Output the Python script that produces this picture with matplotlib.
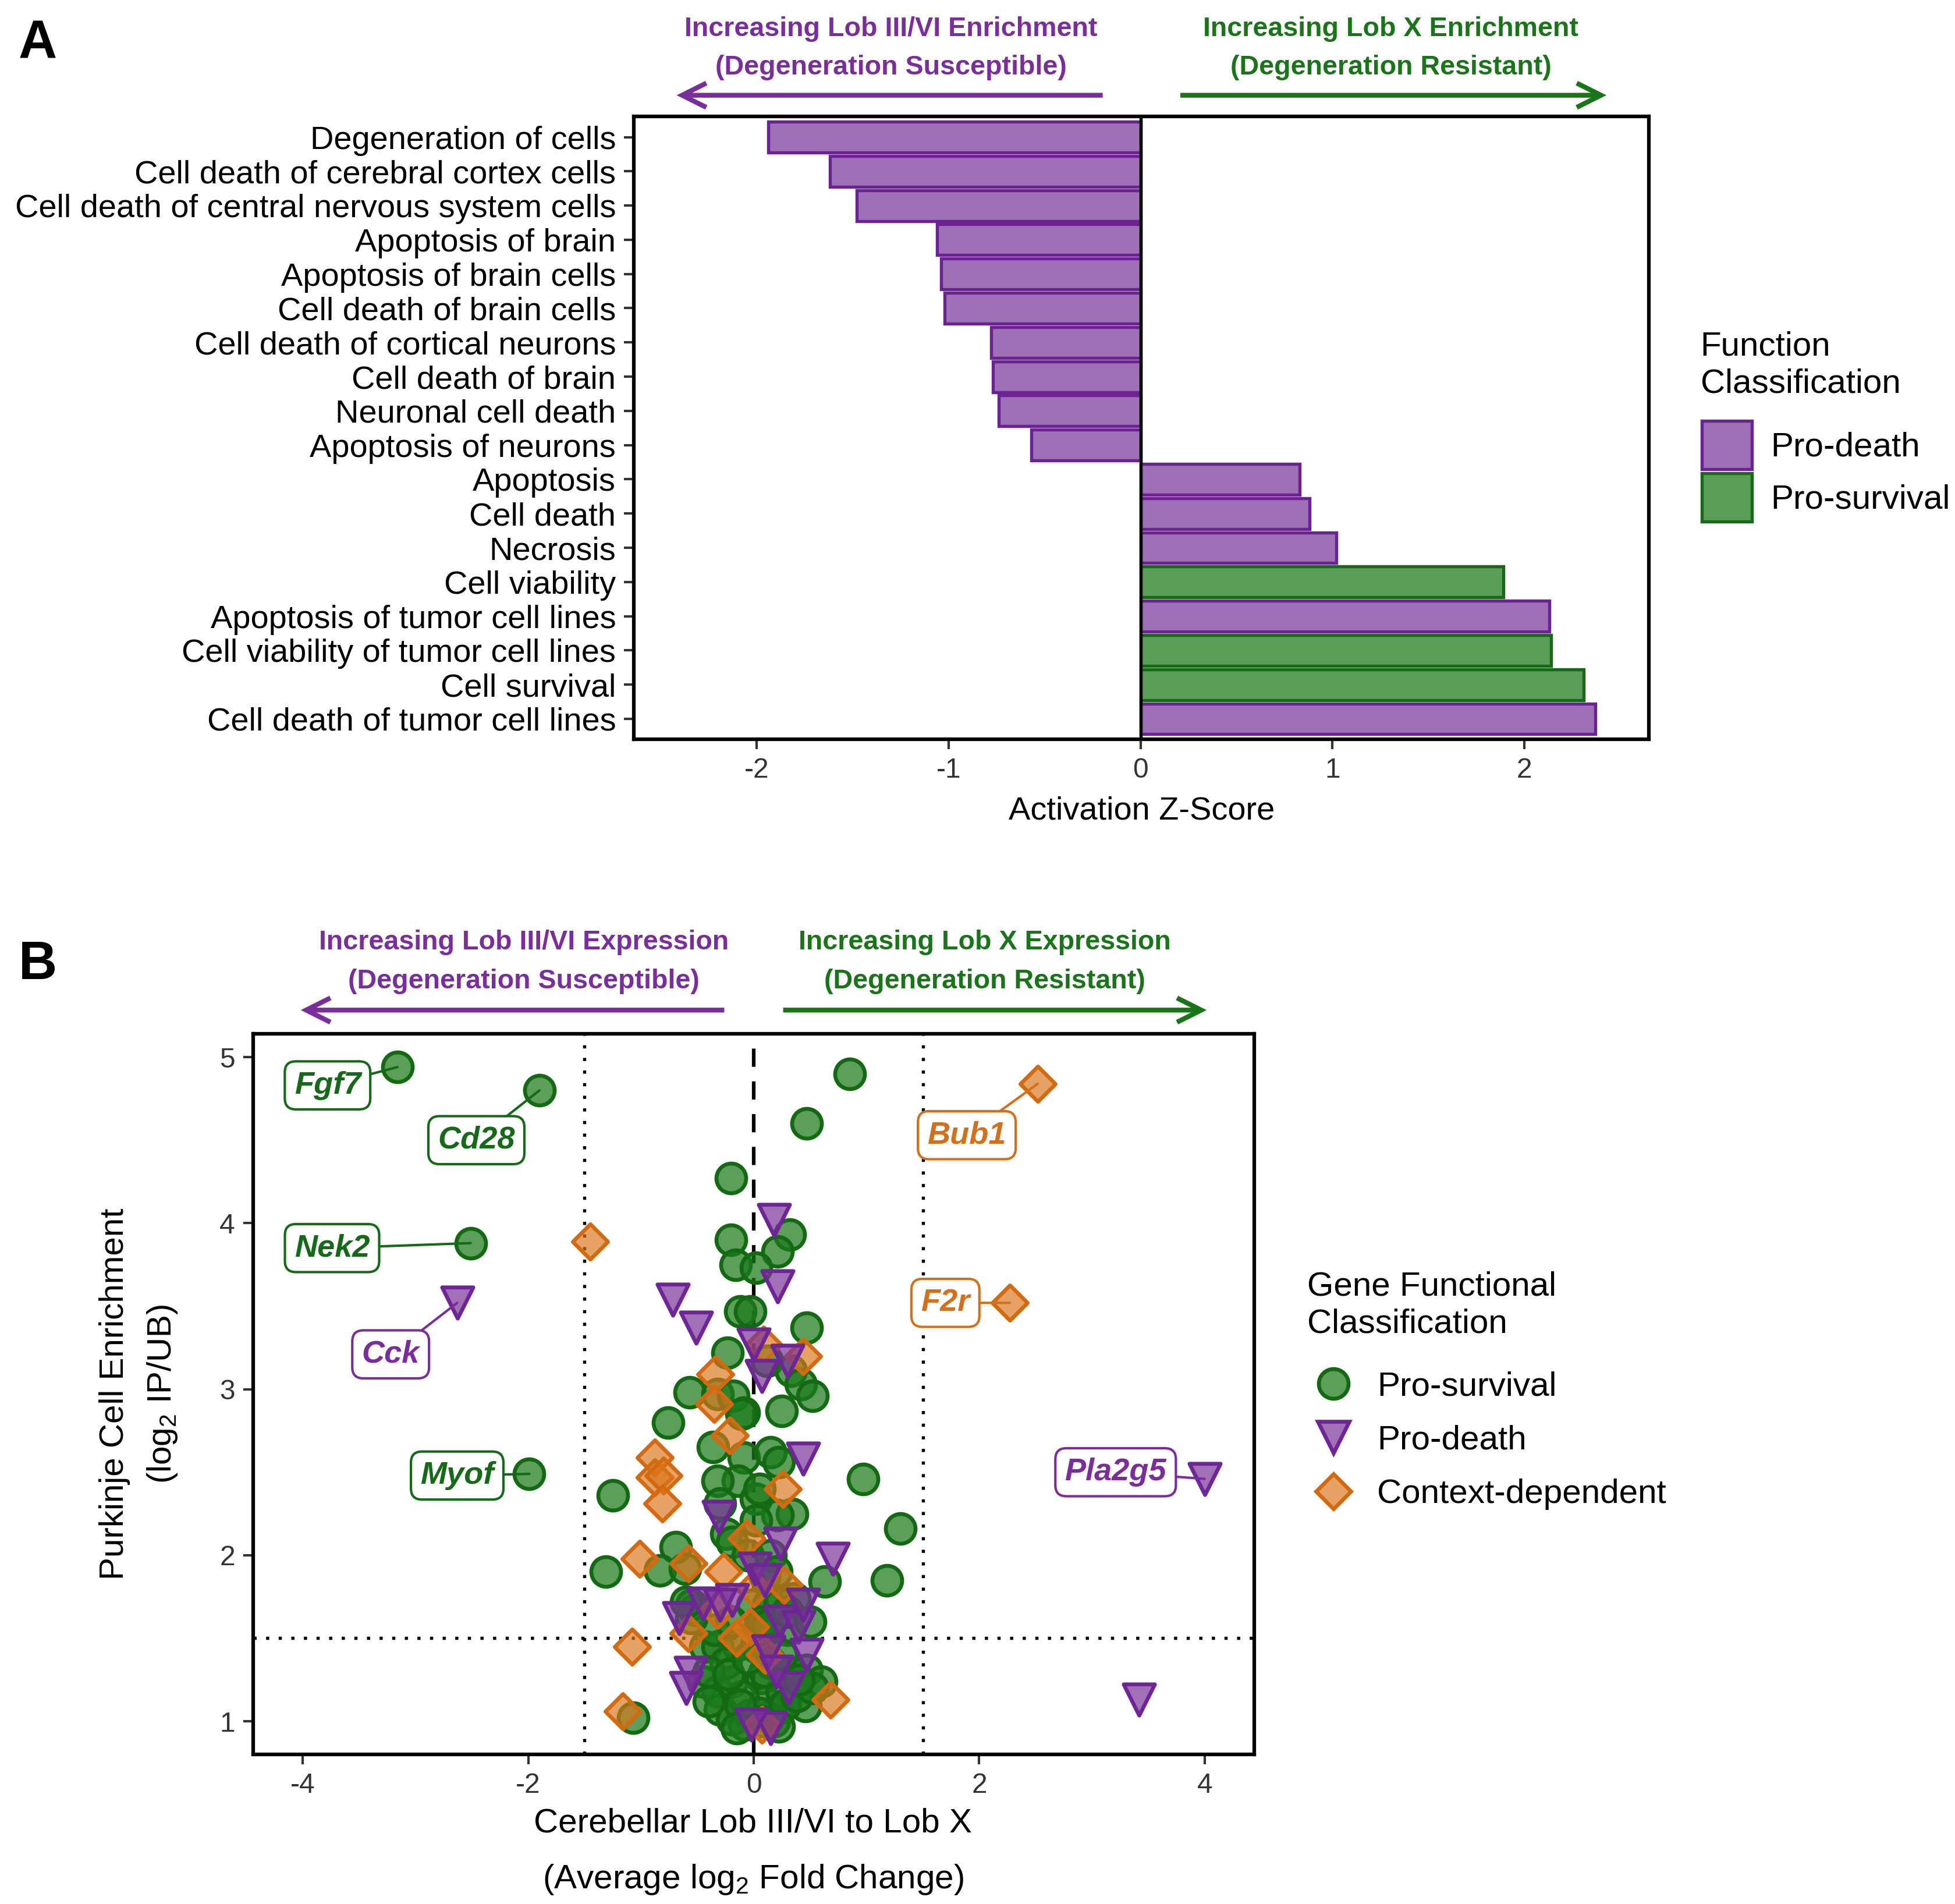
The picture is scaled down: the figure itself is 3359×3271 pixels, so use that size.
import matplotlib
matplotlib.use("Agg")
import matplotlib.pyplot as plt
from matplotlib.patches import Patch, FancyArrowPatch
from matplotlib.lines import Line2D
import numpy as np

plt.rcParams['font.family'] = ['Liberation Sans', 'DejaVu Sans']
plt.rcParams['mathtext.fontset'] = 'custom'
plt.rcParams['mathtext.rm'] = 'Liberation Sans'
plt.rcParams['mathtext.it'] = 'Liberation Sans:italic'

# ---------------- Panel A data ----------------
functions = ["Degeneration of cells", "Cell death of cerebral cortex cells",
             "Cell death of central nervous system cells", "Apoptosis of brain",
             "Apoptosis of brain cells", "Cell death of brain cells",
             "Cell death of cortical neurons", "Cell death of brain",
             "Neuronal cell death", "Apoptosis of neurons", "Apoptosis",
             "Cell death", "Necrosis", "Cell viability",
             "Apoptosis of tumor cell lines", "Cell viability of tumor cell lines",
             "Cell survival", "Cell death of tumor cell lines"]
zscores = [-1.94, -1.62, -1.48, -1.06, -1.04, -1.02, -0.78, -0.77, -0.74, -0.57,
           0.83, 0.88, 1.02, 1.89, 2.13, 2.14, 2.31, 2.37]
func_class = ["Pro-death"] * 13 + ["Pro-survival", "Pro-death", "Pro-survival",
                                   "Pro-survival", "Pro-death"]

# ---------------- Panel B data ----------------
surv_x = [-3.16, -1.90, -2.51, -1.99,
          0.85, 0.47, -0.20, 0.32, -0.20, 0.21, -0.16, 0.02, -0.12, -0.03, 0.47,
          -0.23, 0.12, 0.33, 0.42, 0.52, -0.57, -0.32, -0.18, -0.09, 0.25, -0.76,
          -0.11, -0.36, -0.09, 0.15, 0.22, -1.25, 0.97, -0.14, -0.32, -0.30, 0.02,
          0.34, 0.21, -0.24, 0.02, -0.19, 1.30, -0.69, -1.31, -0.83, -0.61, 0.63,
          1.18, 0.10, -0.52, -0.55, -0.01, 0.13, 0.23, 0.36, -0.43, -0.32, -0.14,
          0.02, -0.45, -0.32, -0.19, 0.07, 0.34, 0.47, 0.60, 0.46, -0.30, -0.19,
          -0.03, 0.13, 0.21, -0.08, -1.07, 0.10, -0.10, 0.25, -0.25, 0.15, 0.05,
          -0.05, 0.15, 0.30, 0.05, -0.40, 0.20, 0.08,
          0.05, 0.18, -0.12, 0.28, 0.38, -0.40, -0.22, 0.10, 0.25, -0.05, 0.52,
          0.40, -0.35, -0.20, 0.12, -0.55, -0.60, 0.30, 0.50, 0.08, 0.22, -0.15]
surv_y = [4.94, 4.80, 3.88, 2.49,
          4.90, 4.60, 4.27, 3.93, 3.90, 3.83, 3.75, 3.73, 3.47, 3.47, 3.37,
          3.22, 3.17, 3.11, 3.03, 2.96, 2.98, 2.97, 2.96, 2.86, 2.87, 2.80,
          2.85, 2.65, 2.59, 2.62, 2.56, 2.36, 2.46, 2.45, 2.45, 2.31, 2.34,
          2.25, 2.24, 2.13, 2.21, 2.08, 2.16, 2.05, 1.90, 1.91, 1.92, 1.84,
          1.85, 1.88, 1.67, 1.70, 1.70, 1.70, 1.71, 1.74, 1.45, 1.45, 1.46,
          1.45, 1.24, 1.18, 1.24, 1.26, 1.29, 1.31, 1.24, 1.09, 1.07, 1.01,
          1.04, 1.02, 1.07, 0.98, 1.02, 1.12, 1.15, 1.18, 1.35, 1.35, 1.55,
          2.00, 2.00, 1.55, 2.40, 1.30, 1.90, 1.60,
          1.05, 1.00, 1.10, 1.10, 1.15, 1.12, 1.28, 1.30, 1.40, 1.38, 1.20,
          1.25, 1.55, 1.60, 1.58, 1.62, 1.72, 1.66, 1.60, 1.00, 0.97, 0.96]
death_x = [-2.63, 4.00,
           3.42, 0.18, 0.21, -0.72, -0.51, 0.00, 0.30, 0.07, 0.44, -0.31, 0.24,
           0.70, 0.01, -0.66, -0.45, -0.19, 0.23, 0.40, 0.44, 0.13, 0.47, -0.56,
           -0.60, 0.31, 0.15, -0.02, 0.20, -0.30, 0.10]
death_y = [3.52, 2.46,
           1.13, 4.02, 3.62, 3.54, 3.37, 3.27, 3.17, 3.08, 2.58, 2.23, 2.07,
           1.98, 1.92, 1.62, 1.71, 1.73, 1.60, 1.57, 1.70, 1.42, 1.40, 1.29,
           1.20, 1.20, 0.96, 0.98, 1.30, 1.70, 1.85]
ctx_x = [2.52, 2.27,
         -1.45, 0.09, 0.44, -0.34, -0.35, -0.21, -0.88, -0.88, -0.80, -0.81,
         0.26, -0.06, -1.01, -0.58, -0.27, 0.27, -0.32, -0.03, -0.58, -1.08,
         0.68, 0.07, -1.16, 0.10, -0.15, 0.00]
ctx_y = [4.84, 3.52,
         3.89, 3.27, 3.20, 3.09, 2.91, 2.72, 2.59, 2.47, 2.48, 2.31,
         2.40, 2.10, 1.98, 1.95, 1.90, 1.82, 1.67, 1.57, 1.53, 1.45,
         1.13, 0.98, 1.06, 1.40, 1.50, 1.80]

label_genes = ["Fgf7", "Cd28", "Nek2", "Myof", "Cck", "Pla2g5", "Bub1", "F2r"]
label_x = [-3.16, -1.90, -2.51, -1.99, -2.63, 4.00, 2.52, 2.27]
label_y = [4.94, 4.80, 3.88, 2.49, 3.52, 2.46, 4.84, 3.52]
label_cls = ["Pro-survival"] * 4 + ["Pro-death"] * 2 + ["Context-dependent"] * 2

# ---------------- styles ----------------
PUR_FILL, PUR_EDGE = "#9E70B5", "#6A2390"
GRN_FILL, GRN_EDGE = "#5A9E5A", "#17691A"
PUR_TXT, GRN_TXT = "#7A2E9B", "#1A741A"
cls_style = {
    "Pro-survival": dict(marker="o", fc=(0.11, 0.48, 0.11, 0.72), ec="#136A13", s=150),
    "Pro-death": dict(marker="v", fc=(0.48, 0.20, 0.60, 0.70), ec="#6E2596", s=165),
    "Context-dependent": dict(marker="D", fc=(0.86, 0.46, 0.10, 0.68), ec="#D26A12", s=105),
}
lab_col = {"Pro-survival": "#17691A", "Pro-death": "#7A2E9B", "Context-dependent": "#D2701C"}

W, H = 3359, 3271
fig = plt.figure(figsize=(W / 300, H / 300), dpi=300)

def D(x, y):
    return (x / 1560.2, 1 - y / 1519.3)

def rect(l, t, r, b):
    x0, y0 = D(l, b)
    x1, y1 = D(r, t)
    return [x0, y0, x1 - x0, y1 - y0]

FS = 13.45

# ---------------- Panel A ----------------
axA = fig.add_axes(rect(506, 93, 1316, 590))
ypos = np.arange(len(functions))
fills = [PUR_FILL if c == "Pro-death" else GRN_FILL for c in func_class]
edges = [PUR_EDGE if c == "Pro-death" else GRN_EDGE for c in func_class]
axA.barh(ypos, zscores, height=0.9, color=fills, edgecolor=edges, linewidth=1.3, zorder=2)
axA.axvline(0, color="black", lw=1.3, zorder=3)
axA.set_ylim(len(functions) - 0.4, -0.6)
axA.set_xlim(-2.64, 2.65)
axA.set_yticks(ypos)
axA.set_yticklabels(functions, fontsize=FS)
axA.set_xticks([-2, -1, 0, 1, 2])
axA.set_xticklabels(["-2", "-1", "0", "1", "2"], fontsize=11.5)
axA.tick_params(length=4, width=1, colors="#333333", labelcolor="black")
axA.tick_params(axis='x', labelcolor="#333333")
for sp in axA.spines.values():
    sp.set_linewidth(1.5)
axA.set_xlabel("Activation Z-Score", fontsize=FS, labelpad=5)

fig.text(*D(1357, 264), "Function\nClassification", fontsize=14, ha="left", va="top",
         linespacing=1.24)
legA = [Patch(facecolor=PUR_FILL, edgecolor=PUR_EDGE, lw=1.3, label="Pro-death"),
        Patch(facecolor=GRN_FILL, edgecolor=GRN_EDGE, lw=1.3, label="Pro-survival")]
lg = fig.legend(handles=legA, loc="upper left",
                bbox_to_anchor=D(1358, 336), frameon=False, fontsize=14,
                handlelength=1.48, handleheight=1.81,
                labelspacing=0.12, handletextpad=0.55, borderpad=0, borderaxespad=0)

# Panel A annotations
kwt = dict(ha="center", va="center", fontsize=11.2, fontweight="bold")
fig.text(*D(711, 23), "Increasing Lob III/VI Enrichment", color=PUR_TXT, **kwt)
fig.text(*D(711, 54), "(Degeneration Susceptible)", color=PUR_TXT, **kwt)
fig.text(*D(1110, 23), "Increasing Lob X Enrichment", color=GRN_TXT, **kwt)
fig.text(*D(1110, 54), "(Degeneration Resistant)", color=GRN_TXT, **kwt)

def farrow(x0, y0, x1, y1, col):
    a = FancyArrowPatch(D(x0, y0), D(x1, y1), transform=fig.transFigure,
                        arrowstyle="->,head_length=1.0,head_width=0.5",
                        mutation_scale=10, color=col, lw=2.0,
                        shrinkA=0, shrinkB=0, capstyle="butt", joinstyle="miter")
    fig.add_artist(a)

farrow(880, 76, 540, 76, PUR_TXT)
farrow(942, 76, 1282, 76, GRN_TXT)
fig.text(*D(30, 35), "A", fontsize=22, fontweight="bold", ha="center", va="center")
fig.text(*D(30, 770), "B", fontsize=22, fontweight="bold", ha="center", va="center")

# ---------------- Panel B ----------------
axB = fig.add_axes(rect(202, 825, 1001, 1400))
axB.set_xlim(-4.44, 4.44)
axB.set_ylim(0.80, 5.14)
axB.axvline(-1.5, color="black", lw=1.3, ls=(0, (1, 3)), zorder=1)
axB.axvline(1.5, color="black", lw=1.3, ls=(0, (1, 3)), zorder=1)
axB.axhline(1.5, color="black", lw=1.3, ls=(0, (1, 3)), zorder=1)
axB.axvline(0, color="black", lw=1.5, ls=(0, (5, 4)), zorder=1)

for name, xs, ys in [("Pro-survival", surv_x, surv_y),
                     ("Context-dependent", ctx_x, ctx_y),
                     ("Pro-death", death_x, death_y)]:
    st = cls_style[name]
    axB.scatter(xs, ys, marker=st["marker"], s=st["s"], facecolors=[st["fc"]],
                edgecolors=st["ec"], linewidths=1.6, zorder=2)

label_pos = {"Fgf7": (-3.78, 4.83), "Cd28": (-2.46, 4.50), "Nek2": (-3.74, 3.85),
             "Cck": (-3.22, 3.21), "Myof": (-2.63, 2.48), "Bub1": (1.89, 4.53),
             "F2r": (1.70, 3.52), "Pla2g5": (3.21, 2.50)}
for g, x, y, c in zip(label_genes, label_x, label_y, label_cls):
    col = lab_col[c]
    axB.annotate(g, xy=(x, y), xytext=label_pos[g], textcoords="data",
                 ha="center", va="center", fontsize=13, fontweight="bold",
                 fontstyle="italic", color=col, zorder=5,
                 bbox=dict(boxstyle="round,pad=0.3,rounding_size=0.35", fc="white",
                           ec=col, lw=1.0),
                 arrowprops=dict(arrowstyle="-", color=col, lw=1.0, shrinkA=0, shrinkB=0))

axB.set_xticks([-4, -2, 0, 2, 4])
axB.set_xticklabels(["-4", "-2", "0", "2", "4"], fontsize=11.5)
axB.set_yticks([1, 2, 3, 4, 5])
axB.set_yticklabels(["1", "2", "3", "4", "5"], fontsize=11.5)
axB.tick_params(length=4, width=1, colors="#333333", labelcolor="#333333")
for sp in axB.spines.values():
    sp.set_linewidth(1.5)
axB.set_ylabel("Purkinje Cell Enrichment\n(log$_2$ IP/UB)", fontsize=14,
               linespacing=1.6, labelpad=16.5)
fig.text(*D(601, 1455), "Cerebellar Lob III/VI to Lob X", fontsize=14,
         ha="center", va="center")
fig.text(*D(601, 1500), "(Average log$_2$ Fold Change)", fontsize=14,
         ha="center", va="center")

fig.text(*D(418, 752), "Increasing Lob III/VI Expression", color=PUR_TXT, **kwt)
fig.text(*D(418, 783), "(Degeneration Susceptible)", color=PUR_TXT, **kwt)
fig.text(*D(786, 752), "Increasing Lob X Expression", color=GRN_TXT, **kwt)
fig.text(*D(786, 783), "(Degeneration Resistant)", color=GRN_TXT, **kwt)
farrow(578, 806, 240, 806, PUR_TXT)
farrow(625, 806, 963, 806, GRN_TXT)

fig.text(*D(1043, 1014), "Gene Functional\nClassification", fontsize=14, ha="left",
         va="top", linespacing=1.24)
legB = [Line2D([], [], ls="", marker=cls_style[k]["marker"],
               markersize=np.sqrt(cls_style[k]["s"]), markerfacecolor=cls_style[k]["fc"],
               markeredgecolor=cls_style[k]["ec"], markeredgewidth=1.6, label=k)
        for k in ["Pro-survival", "Pro-death", "Context-dependent"]]
lgB = fig.legend(handles=legB, loc="upper left",
                 bbox_to_anchor=D(1044, 1094), frameon=False, fontsize=14,
                 handlelength=1.5, labelspacing=0.66,
                 handletextpad=0.53, borderpad=0, borderaxespad=0)

fig.savefig("out.png", dpi=300, facecolor="white")
